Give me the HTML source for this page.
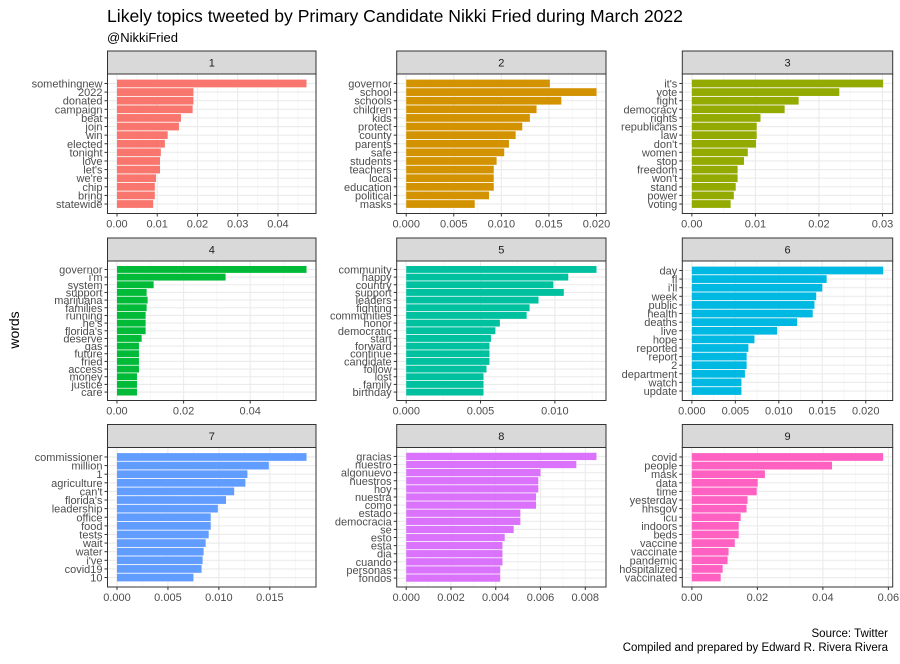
<!DOCTYPE html>
<html><head><meta charset="utf-8"><style>
html,body{margin:0;padding:0;background:#fff;}
svg text{font-family:"Liberation Sans",sans-serif;}
</style></head><body>
<svg id="chart" width="900" height="659" viewBox="0 0 900 659" xmlns="http://www.w3.org/2000/svg">
<rect x="0" y="0" width="900" height="659" fill="#fff"/>
<text x="107" y="22" font-size="17.6" fill="#000">Likely topics tweeted by Primary Candidate Nikki Fried during March 2022</text>
<text x="107" y="42" font-size="13" fill="#000">@NikkiFried</text>
<text transform="translate(19,330) rotate(-90)" text-anchor="middle" font-size="14" fill="#000">words</text>
<text x="888" y="637" text-anchor="end" font-size="11.5" fill="#000">Source: Twitter</text>
<text x="888" y="651" text-anchor="end" font-size="11.5" fill="#000">Compiled and prepared by Edward R. Rivera Rivera</text>
<g id="panels"></g>
</svg>
<script>
const words1 = ["somethingnew","2022","donated","campaign","beat","join","win","elected","tonight","love","let's","we're","chip","bring","statewide"];
const values1 = [0.0471,0.0190,0.0190,0.0188,0.0159,0.0154,0.0126,0.0119,0.0109,0.0107,0.0107,0.0097,0.0094,0.0094,0.0090];
const ticks1 = ["0.00","0.01","0.02","0.03","0.04"];
const words2 = ["governor","school","schools","children","kids","protect","county","parents","safe","students","teachers","local","education","political","masks"];
const values2 = [0.0151,0.0200,0.0163,0.0137,0.0130,0.0122,0.0115,0.0108,0.0103,0.0095,0.0092,0.0092,0.0092,0.0087,0.0072];
const ticks2 = ["0.000","0.005","0.010","0.015","0.020"];
const words3 = ["it's","vote","fight","democracy","rights","republicans","law","don't","women","stop","freedom","won't","stand","power","voting"];
const values3 = [0.0301,0.0232,0.0168,0.0146,0.0108,0.0102,0.0102,0.0101,0.0088,0.0082,0.0072,0.0072,0.0069,0.0066,0.0061];
const ticks3 = ["0.00","0.01","0.02","0.03"];
const words4 = ["governor","i'm","system","support","marijuana","families","running","he's","florida's","deserve","gas","future","fried","access","money","justice","care"];
const values4 = [0.0569,0.0326,0.0110,0.0089,0.0092,0.0089,0.0086,0.0086,0.0086,0.0074,0.0066,0.0066,0.0066,0.0066,0.0060,0.0060,0.0060];
const ticks4 = ["0.00","0.02","0.04"];
const words5 = ["community","happy","country","support","leaders","fighting","communities","honor","democratic","start","forward","continue","candidate","follow","lost","family","birthday"];
const values5 = [0.0128,0.0109,0.0099,0.0106,0.0089,0.0083,0.0081,0.0063,0.0060,0.0057,0.0056,0.0056,0.0056,0.0054,0.0052,0.0052,0.0052];
const ticks5 = ["0.000","0.005","0.010"];
const words6 = ["day","fl","i'll","week","public","health","deaths","live","hope","reported","report","2","department","watch","update"];
const values6 = [0.0220,0.0155,0.0150,0.0143,0.0141,0.0139,0.0121,0.0098,0.0072,0.0065,0.0063,0.0063,0.0061,0.0057,0.0057];
const ticks6 = ["0.000","0.005","0.010","0.015","0.020"];
const words7 = ["commissioner","million","1","agriculture","can't","florida's","leadership","office","food","tests","wait","water","i've","covid19","10"];
const values7 = [0.0186,0.0149,0.0128,0.0126,0.0115,0.0107,0.0099,0.0092,0.0092,0.0090,0.0087,0.0085,0.0084,0.0083,0.0075];
const ticks7 = ["0.000","0.005","0.010","0.015"];
const words8 = ["gracias","nuestro","algonuevo","nuestros","hoy","nuestra","como","estado","democracia","se","esto","esta","dia","cuando","personas","fondos"];
const values8 = [0.0085,0.0076,0.0060,0.0059,0.0059,0.0058,0.0058,0.0051,0.0051,0.0048,0.0044,0.0043,0.0043,0.0043,0.0042,0.0042];
const ticks8 = ["0.000","0.002","0.004","0.006","0.008"];
const words9 = ["covid","people","mask","data","time","yesterday","hhsgov","icu","indoors","beds","vaccine","vaccinate","pandemic","hospitalized","vaccinated"];
const values9 = [0.0584,0.0428,0.0223,0.0201,0.0198,0.0170,0.0167,0.0149,0.0143,0.0143,0.0131,0.0112,0.0109,0.0094,0.0088];
const ticks9 = ["0.00","0.02","0.04","0.06"];
const topics = ["1","2","3","4","5","6","7","8","9"];

const allWords = [words1,words2,words3,words4,words5,words6,words7,words8,words9];
const allValues = [values1,values2,values3,values4,values5,values6,values7,values8,values9];
const allTicks = [ticks1,ticks2,ticks3,ticks4,ticks5,ticks6,ticks7,ticks8,ticks9];
const colors = ["#F8766D","#D39200","#93AA00","#00BA38","#00C19F","#00B9E3","#619CFF","#DB72FB","#FF61C3"];
const colL = [107.5,396.7,682.3], colR = [316,606,892.7];
const rowTop = [51,238,424.5];
const stripH = 23, plotH = 139.5;
const NS = "http://www.w3.org/2000/svg";
const root = document.getElementById("panels");
function mk(tag, attrs, parent){ const e=document.createElementNS(NS,tag); for(const k in attrs) e.setAttribute(k,attrs[k]); parent.appendChild(e); return e; }

for(let p=0;p<9;p++){
  const words=allWords[p], vals=allValues[p], ticks=allTicks[p];
  const L=colL[p%3], R=colR[p%3], T=rowTop[Math.floor(p/3)];
  const top=T+stripH, bot=top+plotH;
  const g=mk("g",{},root);
  
  
  const mx=Math.max(...vals);
  const d0=-0.05*mx, d1=1.05*mx;
  const xs=v=>L+(v-d0)/(d1-d0)*(R-L);
  const n=words.length, unit=plotH/(n+1.2);
  const ys=i=>top+(0.6+i+0.5)*unit;
  mk("rect",{x:L,y:top,width:R-L,height:plotH,fill:"#fff"},g);
  const tv=ticks.map(parseFloat); const step=tv[1]-tv[0];
  for(let m=tv[0]-step/2;m<=d1+1e-9;m+=step){ if(m>d0&&m<d1){ mk("line",{x1:xs(m),x2:xs(m),y1:top,y2:bot,stroke:"#F2F2F2","stroke-width":0.6},g);} }
  tv.forEach(t=>mk("line",{x1:xs(t),x2:xs(t),y1:top,y2:bot,stroke:"#EBEBEB","stroke-width":1.1},g));
  for(let i=0;i<n;i++) mk("line",{x1:L,x2:R,y1:ys(i),y2:ys(i),stroke:"#EBEBEB","stroke-width":1.1},g);
  for(let i=0;i<n;i++){
    const b=mk("rect",{x:xs(0),y:ys(i)-0.45*unit,width:xs(vals[i])-xs(0),height:0.9*unit,fill:colors[p]},g);
    
    
    mk("line",{x1:L-3,x2:L,y1:ys(i),y2:ys(i),stroke:"#333","stroke-width":1},g);
    const t=mk("text",{x:L-5,y:ys(i)+4,"text-anchor":"end","font-size":11,fill:"#4D4D4D"},g);
    t.textContent=words[i];
    
    
  }
  mk("rect",{x:L,y:top,width:R-L,height:plotH,fill:"none",stroke:"#333","stroke-width":1},g);
  mk("rect",{x:L,y:T,width:R-L,height:stripH,fill:"#D9D9D9",stroke:"#333","stroke-width":1},g);
  const st=mk("text",{x:(L+R)/2,y:T+stripH/2+4,"text-anchor":"middle","font-size":11,fill:"#1A1A1A"},g);
  st.textContent=topics[p];
  
  
  ticks.forEach(lab=>{
    const x=xs(parseFloat(lab));
    mk("line",{x1:x,x2:x,y1:bot,y2:bot+3,stroke:"#333","stroke-width":1},g);
    const tt=mk("text",{x:x,y:bot+14,"text-anchor":"middle","font-size":11,fill:"#4D4D4D"},g);
    tt.textContent=lab;
    
    
  });
}
</script>
</body></html>
